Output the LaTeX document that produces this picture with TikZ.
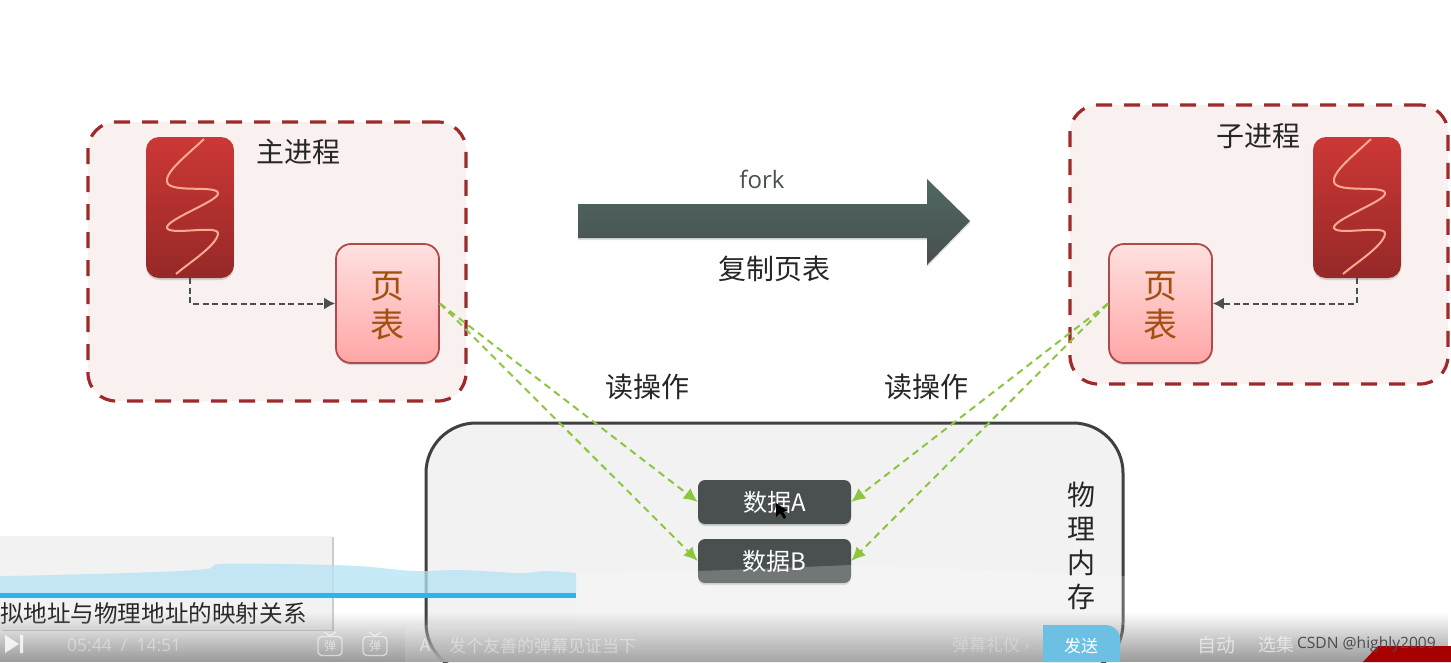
\documentclass[tikz,border=0pt]{standalone}
\usepackage{fontspec}
\setmainfont{Noto Sans CJK SC}
\newfontfamily\latinfont{Open Sans}
\usetikzlibrary{arrows.meta, shadows, fadings}

\definecolor{framered}{HTML}{9E2A2B}
\definecolor{panelpink}{HTML}{F9F0F0}
\definecolor{slate}{HTML}{4A5050}
\definecolor{leafgreen}{HTML}{8CC63F}
\definecolor{arrowTop}{HTML}{4F6864}
\definecolor{arrowBottom}{HTML}{484F4F}
\definecolor{procTop}{HTML}{CC3836}
\definecolor{procBottom}{HTML}{962828}
\definecolor{tableTop}{HTML}{FFE0E0}
\definecolor{tableBottom}{HTML}{FFA6A6}
\definecolor{squiggleline}{HTML}{FAAA8C}
\definecolor{barblue}{HTML}{29B6F0}
\definecolor{waveblue}{HTML}{B5E3F5}
\definecolor{sendblue}{HTML}{6CC0E4}
\definecolor{tabletext}{HTML}{A0500F}

\tikzset{
    panelbox/.style={draw=framered, line width=3.2pt, dash pattern=on 16pt off 12pt, fill=panelpink, rounded corners=28pt, minimum width=378pt, minimum height=279pt},
    procbox/.style={rounded corners=13pt, minimum width=88pt, minimum height=141pt, top color=procTop, bottom color=procBottom, drop shadow={opacity=.3, shadow xshift=0pt, shadow yshift=-2pt}},
    tablebox/.style={draw=framered!85, line width=1.8pt, rounded corners=15pt, minimum width=103pt, minimum height=119pt, top color=tableTop, bottom color=tableBottom, drop shadow={opacity=.25, shadow xshift=0pt, shadow yshift=-2pt}},
    tabletitle/.style={text=tabletext, font=\fontsize{34}{39}\selectfont, align=center, inner sep=0pt},
    databox/.style={fill=slate, rounded corners=7pt, minimum width=153pt, minimum height=44pt, text=white, font=\fontsize{24}{28}\selectfont, drop shadow={opacity=.3, shadow xshift=0pt, shadow yshift=-2pt}},
    titletext/.style={font=\fontsize{28}{34}\selectfont, text=black!85},
    readline/.style={draw=leafgreen, line width=2pt, dash pattern=on 7pt off 5pt, -{Latex[length=14pt,width=13pt]}},
    maplink/.style={draw=slate, line width=2pt, dash pattern=on 6pt off 3.5pt, -{Latex[length=11pt,width=12pt]}},
    squiggle/.style={draw=squiggleline, line width=2pt},
    faint/.style={text=white, opacity=.4, font=\fontsize{17}{20}\selectfont},
    iconline/.style={draw=white, opacity=.55, line width=1.4pt},
}

\begin{document}
\begin{tikzpicture}[x=1pt, y=-1pt]
    \useasboundingbox (0,0) rectangle (1451,662);
    \clip (0,0) rectangle (1451,662);
    \fill[white] (0,0) rectangle (1451,662);

    % Draw the two process panels
    \node[panelbox] (mainpanel) at (277,261.5) {};
    \node[panelbox] (childpanel) at (1259,244.5) {};

    % Processes and page tables
    \node[procbox] (mainproc) at (190,207.5) {};
    \node[procbox] (childproc) at (1357,207.5) {};
    \node[tablebox] (maintable) at (387.5,303.5) {};
    \node[tablebox] (childtable) at (1160.5,303.5) {};
    \node[tabletitle] (maintablelabel) at (387.5,306) {页\\表};
    \node[tabletitle] (childtablelabel) at (1160.5,306) {页\\表};

    % Add the squiggles
    \foreach \dx in {0, 1167} {
        \draw[squiggle, xshift=\dx pt] (204,139) .. controls (186,156) and (165,172) .. (167,182)
            .. controls (170,194) and (220,184) .. (218,194)
            .. controls (216,202) and (165,220) .. (167,228)
            .. controls (170,236) and (220,224) .. (218,234)
            .. controls (216,246) and (190,262) .. (176,274);
    }

    \node[titletext] (maintitle) at (298,152) {主进程};
    \node[titletext] (childtitle) at (1258,136) {子进程};

    % Fork arrow
    \node[font=\latinfont\fontsize{24}{28}\selectfont, text=slate] (forklabel) at (762,179) {fork};
    \path[top color=arrowTop, bottom color=arrowBottom, drop shadow={opacity=.25, shadow xshift=0pt, shadow yshift=-2pt}] (578,204) -- (927,204) -- (927,179) -- (970,221) -- (927,265) -- (927,238) -- (578,238) -- cycle;
    \node[titletext] (copylabel) at (774,269) {复制页表};

    % Physical memory
    \node[draw=black!75, line width=3pt, fill=black!5, rounded corners=50pt, minimum width=697pt, minimum height=250pt] (memory) at (774.5,548) {};
    \node[databox] (dataA) at (774.5,502) {数据A};
    \node[databox] (dataB) at (774.5,561) {数据B};
    \fill[black] (776,503) -- (776,517) -- (780,513) -- (784,519) -- (786,517) -- (783,512) -- (788,511) -- cycle;

    % Connectors
    \draw[maplink] (mainproc.south) |- (maintable.west);
    \draw[maplink] (childproc.south) |- (childtable.east);
    \draw[readline] (maintable.east) -- (dataA.west);
    \draw[readline] (maintable.east) -- (dataB.west);
    \draw[readline] (childtable.west) -- (dataA.east);
    \draw[readline] (childtable.west) -- (dataB.east);
    \node[titletext] (readleft) at (647,387) {读操作};
    \node[titletext] (readright) at (926,387) {读操作};

    % Video player overlay
    \fill[white, opacity=.22] (576,573) -- (698,571) -- (780,568) -- (851,565) -- (1123,576) -- (1451,600) -- (1451,625) -- (576,625) -- cycle;
    \node[titletext, align=center, inner sep=0pt] (memlabel) at (1081,546) {物\\理\\内\\存};
    \fill[black!5, drop shadow={opacity=.4, shadow xshift=2pt, shadow yshift=-1pt}] (0,536) rectangle (332,630);
    \fill[waveblue, opacity=.75] plot[smooth] coordinates {(0,576) (55,575) (156,572) (207,569) (220,564) (285,564) (358,566) (414,571) (460,570) (520,573) (545,571) (576,573)} -- (576,594) -- (0,594) -- cycle;
    \fill[barblue] (0,593) rectangle (576,598);
    \node[anchor=east, inner sep=0pt, font=\fontsize{23.6}{28}\selectfont, text=black!85] (caption) at (307,614) {拟地址与物理地址的映射关系};
    \fill[black!40, path fading=north] (0,612) rectangle (1451,662);

    % Player controls
    \fill[white, opacity=.12, rounded corners=8pt] (405,625) rectangle (1060,672);
    \node[faint, anchor=west, inner sep=0pt, font=\latinfont\fontsize{17.5}{20}\selectfont] (timer) at (67,645) {05:44\ \ /\ \ 14:51};
    \node[faint, anchor=west, inner sep=0pt] (hint) at (449,646) {发个友善的弹幕见证当下};
    \node[faint, anchor=west, inner sep=0pt, opacity=.3] (etiquette) at (952,645) {弹幕礼仪 ›};
    \fill[white, opacity=.8] (5,635) -- (19,644) -- (5,653) -- cycle (20,635) rectangle (23,653);
    \foreach \ix/\iname in {330/iconA, 375/iconB} {
        \node[iconline, draw, rounded corners=4pt, minimum width=24pt, minimum height=19pt, inner sep=0pt, text=white, font=\fontsize{12}{14}\selectfont] (\iname) at (\ix,646) {弹};
        \draw[iconline] (\ix-6,632) -- (\iname.north) -- (\ix+6,632);
    }
    \node[faint, inner sep=0pt, font=\fontsize{17}{20}\selectfont, opacity=.55] (inputicon) at (425,645) {A};
    \node[faint, inner sep=0pt, font=\fontsize{19}{24}\selectfont, opacity=.6] (autolabel) at (1216,645) {自动};
    \node[faint, inner sep=0pt, font=\fontsize{18}{24}\selectfont, opacity=.6] (selectlabel) at (1276,645) {选集};
    \fill[sendblue] (1043,625) -- (1104,625) .. controls (1114,625) and (1120,631) .. (1120,640) -- (1120,662) -- (1043,662) -- cycle;
    \node[text=white, inner sep=0pt, font=\fontsize{17}{20}\selectfont] (sendlabel) at (1081,646) {发送};
    \fill[red!65!black] (1363,662) -- (1378,646) -- (1451,646) -- (1451,662) -- cycle;
    \node[anchor=east, inner sep=0pt, text=black!70, font=\latinfont\fontsize{15.6}{20}\selectfont] (mark) at (1436,644) {CSDN @highly2009};
\end{tikzpicture}
\end{document}
